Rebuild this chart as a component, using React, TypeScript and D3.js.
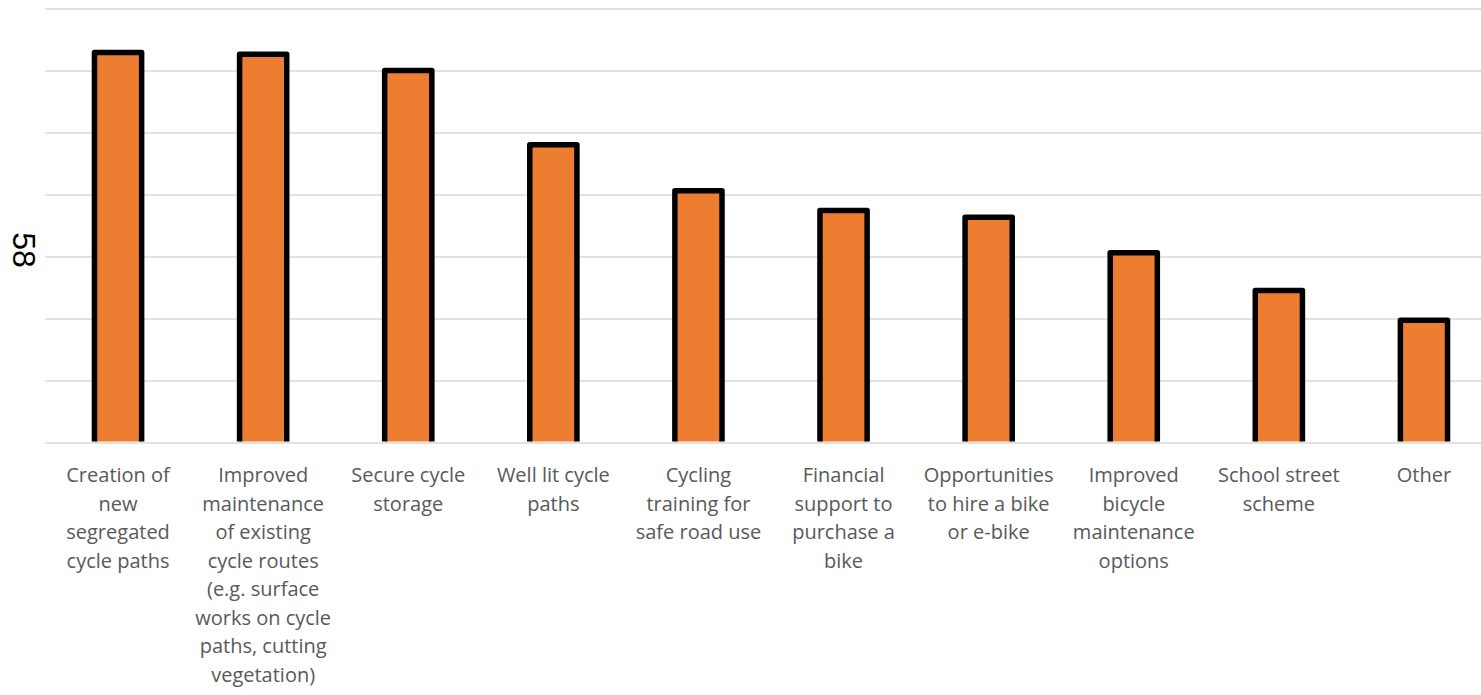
import React, { useEffect, useRef } from "react";
import * as d3 from "d3";

const categories: string[][] = [
  ["Creation of", "new", "segregated", "cycle paths"],
  ["Improved", "maintenance", "of existing", "cycle routes", "(e.g. surface", "works on cycle", "paths, cutting", "vegetation)"],
  ["Secure cycle", "storage"],
  ["Well lit cycle", "paths"],
  ["Cycling", "training for", "safe road use"],
  ["Financial", "support to", "purchase a", "bike"],
  ["Opportunities", "to hire a bike", "or e-bike"],
  ["Improved", "bicycle", "maintenance", "options"],
  ["School street", "scheme"],
  ["Other"],
];
const values: number[] = [63.0, 62.7, 60.1, 48.1, 40.7, 37.5, 36.4, 30.7, 24.6, 19.8];
const gridTicks: number[] = [0, 10, 20, 30, 40, 50, 60, 70];
const axisTitle = "58";

const W = 1481;
const H = 695;

export default function App() {
  const ref = useRef<SVGSVGElement>(null);
  useEffect(() => {
    const svg = d3.select(ref.current);
    svg.selectAll("*").remove();
    const x = d3
      .scaleBand<number>()
      .domain(d3.range(values.length))
      .range([45.5, 1496.5])
      .paddingInner(0.675)
      .paddingOuter(0.3375);
    const y = d3.scaleLinear().domain([0, 70]).range([443, 9]);

    svg
      .append("defs")
      .append("clipPath")
      .attr("id", "plotclip")
      .append("rect")
      .attr("x", 0)
      .attr("y", 0)
      .attr("width", W)
      .attr("height", y(0) - 1.5);

    svg
      .append("g")
      .selectAll("line")
      .data(gridTicks)
      .join("line")
      .attr("x1", 45)
      .attr("x2", W)
      .attr("y1", (d) => y(d))
      .attr("y2", (d) => y(d))
      .attr("stroke", "#d9d9d9")
      .attr("stroke-width", 1.5);

    svg
      .append("g")
      .attr("clip-path", "url(#plotclip)")
      .selectAll("rect")
      .data(values)
      .join("rect")
      .attr("x", (_, i) => x(i)!)
      .attr("width", x.bandwidth())
      .attr("y", (d) => y(d))
      .attr("height", (d) => y(0) - y(d) + 6)
      .attr("fill", "#ED7D31")
      .attr("stroke", "#000")
      .attr("stroke-width", 5.5)
      .attr("stroke-linejoin", "round");

    const lab = svg
      .append("g")
      .attr("font-family", "'Open Sans', sans-serif")
      .attr("font-size", 20)
      .attr("fill", "#595959")
      .attr("text-anchor", "middle");
    categories.forEach((lines, i) => {
      const cx = x(i)! + x.bandwidth() / 2;
      lines.forEach((ln, j) => {
        lab
          .append("text")
          .attr("x", cx)
          .attr("y", 482 + j * 28.5)
          .text(ln);
      });
    });

    svg
      .append("text")
      .attr("transform", `translate(13,250) rotate(90)`)
      .attr("text-anchor", "middle")
      .attr("font-family", "'Liberation Sans', Arial, sans-serif")
      .attr("font-size", 32)
      .attr("fill", "#000")
      .text(axisTitle);
  }, []);
  return (
    <svg
      ref={ref}
      width={W}
      height={H}
      style={{ position: "absolute", left: 0, top: 0, background: "#fff" }}
    />
  );
}
